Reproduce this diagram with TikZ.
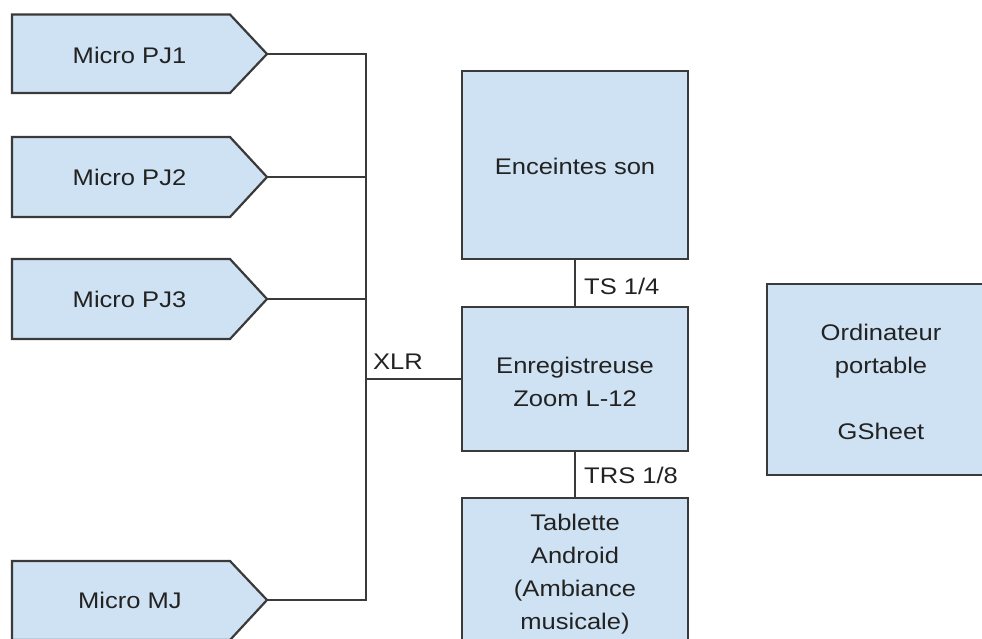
\documentclass[tikz,border=0pt]{standalone}
\usepackage{fontspec}
\setmainfont{Liberation Sans}[FakeStretch=1.13]
\definecolor{boxblue}{HTML}{CFE2F3}
\definecolor{edgegray}{HTML}{3A3A3A}
\definecolor{inkgray}{HTML}{222222}
\begin{document}
\begin{tikzpicture}[x=1pt,y=-1pt]
\tikzset{
  box/.style={draw=edgegray, fill=boxblue, line width=2.2pt},
  rbox/.style={box, rectangle, inner sep=0pt},
  lbl/.style={font=\fontsize{22.6}{33}\selectfont, text=inkgray, align=center, inner sep=0pt},
  wire/.style={draw=edgegray, line width=1.9pt},
}
\useasboundingbox (0,0) rectangle (982,639);
\clip (0,0) rectangle (982,639);
% microphones (pentagon arrows)
\draw[box] (12,14.5) -- (230,14.5) -- (267,54) -- (230,93) -- (12,93) -- cycle;
\draw[box] (12,137) -- (230,137) -- (267,177) -- (230,217) -- (12,217) -- cycle;
\draw[box] (12,259) -- (230,259) -- (267,299) -- (230,339) -- (12,339) -- cycle;
\draw[box] (12,561) -- (230,561) -- (267,600) -- (230,640) -- (12,640) -- cycle;
\node[lbl] (pj1) at (129.5,55.5) {Micro PJ1};
\node[lbl] (pj2) at (129.5,177.5) {Micro PJ2};
\node[lbl] (pj3) at (129.5,299.5) {Micro PJ3};
\node[lbl] (mj) at (130,600.5) {Micro MJ};
\coordinate (pj1tip) at (267,54);
\coordinate (pj2tip) at (267,177);
\coordinate (pj3tip) at (267,299);
\coordinate (mjtip) at (267,600);
% boxes
\node[rbox, minimum width=226.6pt, minimum height=188.5pt] (enc) at (575,165) {};
\node[lbl] (enct) at (575,166) {Enceintes son};
\node[rbox, minimum width=226.6pt, minimum height=144pt] (rec) at (575,379) {};
\node[lbl] (rect) at (575,382) {Enregistreuse\\Zoom L-12};
\node[rbox, minimum width=226.6pt, minimum height=147pt] (tab) at (575,571.5) {};
\node[lbl] (tabt) at (575,574) {Tablette\\Android\\(Ambiance\\musicale)};
\node[rbox, minimum width=227.4pt, minimum height=190.7pt] (ord) at (881,379.6) {};
\node[lbl] (ordt) at (881,382) {Ordinateur\\portable\\[33pt]GSheet};
% bus
\coordinate (b1) at (366,54);
\coordinate (b4) at (366,600);
\coordinate (bx) at (366,379);
\draw[wire] (pj1tip) -- (b1) -- (b4) -- (mjtip);
\draw[wire] (pj2tip) -- (pj2tip -| b1);
\draw[wire] (pj3tip) -- (pj3tip -| b1);
\draw[wire] (bx) -- (rec.west);
\draw[wire] (enc.south) -- (rec.north);
\draw[wire] (rec.south) -- (tab.north);
% labels
\node[lbl, anchor=west] (xlr) at (373,362) {XLR};
\node[lbl, anchor=west] (ts) at (584,286) {TS 1/4};
\node[lbl, anchor=west] (trs) at (584,475) {TRS 1/8};
\end{tikzpicture}
\end{document}
